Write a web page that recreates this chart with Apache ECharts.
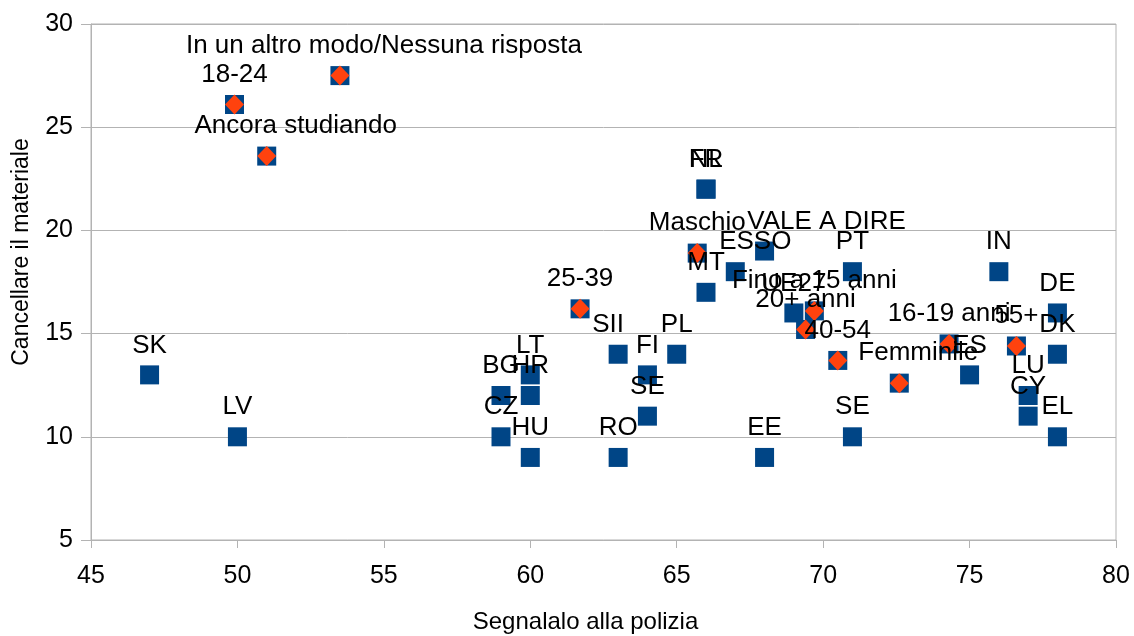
<!DOCTYPE html>
<html>
<head>
<meta charset="utf-8">
<script src="https://cdn.jsdelivr.net/npm/echarts@6/dist/echarts.min.js"></script>
<style>
  html, body { margin: 0; padding: 0; background: #fff; }
  #chart { width: 1134px; height: 636px; }
</style>
</head>
<body>
<div id="chart"></div>
<script>
// paesi (quadrati blu)
const countryNames = ['SK', 'LV', 'BG', 'CZ', 'LT', 'HR', 'HU', 'SII', 'RO', 'FI', 'SE', 'PL', 'FR', 'NL', 'MT',
  'ESSO', 'VALE A DIRE', 'EE', 'UE27', 'PT', 'SE', 'ES', 'IN', 'LU', 'CY', 'DE', 'DK', 'EL']
const countryX = [47, 50, 59, 59, 60, 60, 60, 63, 63, 64, 64, 65, 66, 66, 66,
  67, 68, 68, 69, 71, 71, 75, 76, 77, 77, 78, 78, 78]
const countryY = [13, 10, 12, 10, 13, 12, 9, 14, 9, 13, 11, 14, 22, 22, 17,
  18, 19, 9, 16, 18, 10, 13, 18, 12, 11, 16, 14, 10]

// gruppi socio-demografici (rombi arancioni)
const groupNames = ['In un altro modo/Nessuna risposta', '18-24', 'Ancora studiando', '25-39', 'Maschio',
  'Fino a 15 anni', '20+ anni', '40-54', 'Femminile', '16-19 anni', '55+']
const groupX = [53.5, 49.9, 51.0, 61.7, 65.7, 69.7, 69.4, 70.5, 72.6, 74.3, 76.6]
const groupY = [27.5, 26.1, 23.6, 16.2, 18.9, 16.1, 15.2, 13.7, 12.6, 14.5, 14.4]

const xTicks = { min: 45, max: 80, step: 5 }
const yTicks = { min: 5, max: 30, step: 5 }

// spostamenti orizzontali delle etichette come nell'originale
const labelShift = {
  'In un altro modo/Nessuna risposta': 44,
  'Ancora studiando': 29,
  'Femminile': 19,
  'ESSO': 20,
  'VALE A DIRE': 62,
  'SII': -10
}

const FONT = 'Liberation Sans'

function toPoints(names, xs, ys) {
  return names.map((n, i) => {
    let p = { name: n, value: [xs[i], ys[i]] }
    if (labelShift[n]) {
      p.label = { offset: [labelShift[n], 0] }
    }
    return p
  })
}

const labelStyle = {
  show: true,
  position: 'top',
  distance: 7,
  formatter: p => p.name,
  color: '#000',
  fontFamily: FONT,
  fontSize: 26
}

const chart = echarts.init(document.getElementById('chart'))

chart.setOption({
  animation: false,
  grid: {
    left: 91, right: 18, top: 24, bottom: 96,
    containLabel: false,
    outerBoundsMode: 'none',
    show: true, borderColor: '#b3b3b3', borderWidth: 1
  },
  xAxis: {
    type: 'value',
    min: xTicks.min, max: xTicks.max, interval: xTicks.step,
    name: 'Segnalalo alla polizia',
    nameLocation: 'middle',
    nameGap: 70,
    nameTextStyle: { fontFamily: FONT, fontSize: 24, color: '#000', padding: [0, 36, 0, 0] },
    axisLine: { lineStyle: { color: '#b3b3b3' } },
    axisTick: { show: true, length: 8, lineStyle: { color: '#b3b3b3' } },
    axisLabel: { fontFamily: FONT, fontSize: 25, color: '#000', margin: 24 },
    splitLine: { show: false }
  },
  yAxis: {
    type: 'value',
    min: yTicks.min, max: yTicks.max, interval: yTicks.step,
    name: 'Cancellare il materiale',
    nameLocation: 'middle',
    nameGap: 58,
    nameTextStyle: { fontFamily: FONT, fontSize: 23, color: '#000', padding: [0, 0, 0, 60] },
    axisLine: { show: true, lineStyle: { color: '#b3b3b3' } },
    axisTick: { show: true, length: 10, lineStyle: { color: '#b3b3b3' } },
    axisLabel: { fontFamily: FONT, fontSize: 25, color: '#000', margin: 18 },
    splitLine: { show: true, lineStyle: { color: '#b3b3b3' } }
  },
  series: [
    {
      type: 'scatter',
      symbol: 'rect',
      symbolSize: 19,
      itemStyle: { color: '#004586', opacity: 1 },
      label: labelStyle,
      data: toPoints(countryNames, countryX, countryY)
    },
    {
      type: 'scatter',
      symbol: 'rect',
      symbolSize: 19,
      itemStyle: { color: '#004586', opacity: 1 },
      data: groupX.map((x, i) => [x, groupY[i]])
    },
    {
      type: 'scatter',
      symbol: 'diamond',
      symbolSize: [19, 20],
      itemStyle: { color: '#ff420e', opacity: 1 },
      label: labelStyle,
      data: toPoints(groupNames, groupX, groupY)
    }
  ]
})
</script>
</body>
</html>
